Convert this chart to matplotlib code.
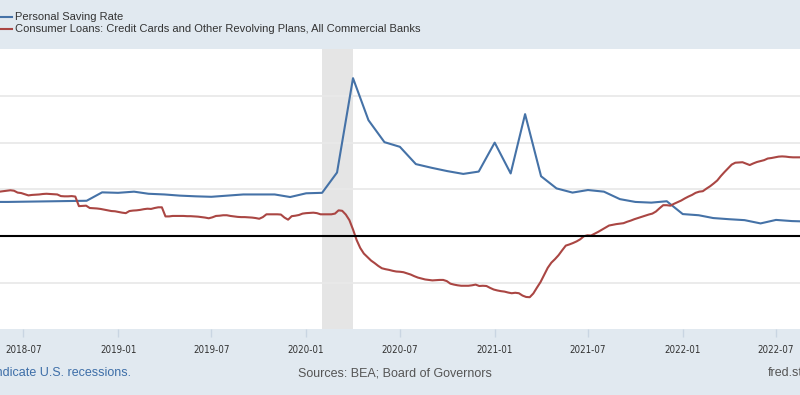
import matplotlib
matplotlib.use('Agg')
import matplotlib.pyplot as plt
import matplotlib.dates as mdates
from matplotlib.lines import Line2D
import pandas as pd

plt.rcParams['font.family'] = ['Liberation Sans', 'DejaVu Sans']

# Personal Saving Rate, monthly (percent)
saving_start = '2018-05-01'
saving_rate = [7.3, 7.3, 7.35, 7.4, 7.45, 7.5, 7.55, 9.35,
               9.25, 9.5, 9.05, 8.9, 8.65, 8.5, 8.4, 8.65, 8.9, 8.9, 8.9, 8.35,
               9.15, 9.25, 13.6, 33.8, 24.8, 20.1, 19.1, 15.4, 14.6, 13.9, 13.3, 13.8,
               20.0, 13.4, 26.1, 12.8, 10.2, 9.3, 9.85, 9.5, 7.9, 7.3, 7.15, 7.45,
               4.7, 4.45, 3.85, 3.6, 3.4, 2.7, 3.45, 3.2, 3.1]

# Credit card loans, weekly, percent change from year ago
loans_start = '2018-05-09'
card_loans = [9.5, 9.5, 9.6, 9.7, 9.8, 9.7, 9.3, 9.2, 8.95, 8.7,
              8.8, 8.85, 8.9, 9.0, 9.05, 9.0, 8.95, 8.9, 8.55, 8.5,
              8.5, 8.55, 8.45, 6.4, 6.45, 6.5, 6.0, 5.95, 5.9, 5.8,
              5.65, 5.5, 5.35, 5.3, 5.15, 5.0, 4.9, 5.35, 5.45, 5.5,
              5.6, 5.75, 5.85, 5.8, 6.0, 6.15, 6.15, 4.2, 4.2, 4.3,
              4.3, 4.3, 4.3, 4.25, 4.25, 4.2, 4.15, 4.05, 3.95, 3.8,
              4.0, 4.3, 4.35, 4.45, 4.45, 4.3, 4.2, 4.1, 4.05, 4.05,
              4.0, 3.95, 3.85, 3.7, 4.05, 4.65, 4.65, 4.65, 4.65, 4.6,
              3.95, 3.5, 4.25, 4.35, 4.5, 4.8, 4.9, 4.95, 5.0, 4.9,
              4.65, 4.65, 4.65, 4.65, 4.8, 5.5, 5.4, 4.6, 3.4, 1.4,
              -0.85, -2.55, -3.75, -4.5, -5.25, -5.8, -6.4, -6.9, -7.1, -7.25,
              -7.45, -7.6, -7.65, -7.75, -8.0, -8.25, -8.6, -8.9, -9.1, -9.3,
              -9.4, -9.5, -9.45, -9.4, -9.4, -9.65, -10.2, -10.4, -10.55, -10.65,
              -10.65, -10.65, -10.55, -10.4, -10.7, -10.65, -10.7, -11.1, -11.45, -11.65,
              -11.8, -11.9, -12.1, -12.25, -12.15, -12.25, -12.75, -13.05, -13.1, -12.3,
              -11.05, -9.85, -8.35, -6.8, -5.7, -4.95, -4.1, -3.05, -2.05, -1.8,
              -1.5, -1.15, -0.7, -0.05, 0.15, 0.1, 0.5, 0.9, 1.35, 1.8,
              2.25, 2.4, 2.55, 2.65, 2.75, 3.05, 3.3, 3.6, 3.85, 4.1,
              4.35, 4.6, 4.8, 5.25, 5.95, 6.6, 6.6, 6.5, 6.9, 7.25,
              7.6, 8.05, 8.45, 8.8, 9.25, 9.5, 9.6, 10.15, 10.65, 11.25,
              11.9, 12.85, 13.7, 14.5, 15.3, 15.7, 15.75, 15.8, 15.5, 15.2,
              15.55, 15.85, 16.05, 16.25, 16.6, 16.7, 16.85, 17.0, 17.05, 17.0,
              16.9, 16.85, 16.85, 16.85]

recession = ('2020-02-01', '2020-04-01')
series_names = ['Personal Saving Rate',
                'Consumer Loans: Credit Cards and Other Revolving Plans, All Commercial Banks']

saving_dates = pd.date_range(saving_start, periods=len(saving_rate), freq='MS')
loan_dates = pd.date_range(loans_start, periods=len(card_loans), freq='7D')

BG = '#e1e9f0'
BLUE = '#4572a7'
RED = '#aa4643'

fig = plt.figure(figsize=(8, 3.95), dpi=100, facecolor=BG)
ax = fig.add_axes([0, 0.166, 1, 0.7094])
ax.set_facecolor('white')

ax.axvspan(pd.Timestamp(recession[0]), pd.Timestamp(recession[1]), color='#e5e5e5', lw=0, zorder=0)
ax.plot(saving_dates, saving_rate, color=BLUE, lw=1.5, zorder=3)
ax.plot(loan_dates, card_loans, color=RED, lw=1.5, zorder=3)
ax.axhline(0, color='black', lw=1.5, zorder=4)

ax.set_ylim(-20, 40)
ax.set_xlim(pd.Timestamp('2018-05-16 20:00'), pd.Timestamp('2022-08-16 14:00'))
ax.set_yticks([-10, 0, 10, 20, 30])
ax.grid(axis='y', color='#e9e9e9', lw=1.3, zorder=1)
for s in ax.spines.values():
    s.set_visible(False)

ax.set_xticks(pd.date_range('2018-07-01', '2022-07-01', freq='6MS'))
ax.xaxis.set_major_formatter(mdates.DateFormatter('%Y-%m'))
ax.tick_params(axis='y', left=False, labelleft=False)
ax.tick_params(axis='x', length=6, width=1, color='#c9d5e2', pad=5,
               labelsize=7.5, labelcolor='#333333')
for lab in ax.get_xticklabels():
    lab.set_family(['DejaVu Sans'])
    lab.set_fontstretch('condensed')
    lab.set_fontsize(7)

# legend at the top
for i, (name, col) in enumerate(zip(series_names, [BLUE, RED])):
    yy = 1 - (17 + 12 * i) / 395
    fig.add_artist(Line2D([0, 12 / 800], [yy, yy], color=col, lw=1.5,
                          transform=fig.transFigure))
    fig.text(15 / 800, yy, name, ha='left', va='center', fontsize=8,
             color='#333333')

# footer
fy = 1 - 373 / 395
fig.text(131 / 800, fy, 'Shaded areas indicate U.S. recessions.', ha='right', va='center',
         fontsize=9, color='#3d6ea8')
fig.text(395 / 800, fy, 'Sources: BEA; Board of Governors', ha='center', va='center',
         fontsize=9, color='#555555')
fig.text(768 / 800, fy, 'fred.stlouisfed.org', ha='left', va='center',
         fontsize=9, color='#555555')

fig.savefig('out.png', dpi=100, facecolor=BG)
